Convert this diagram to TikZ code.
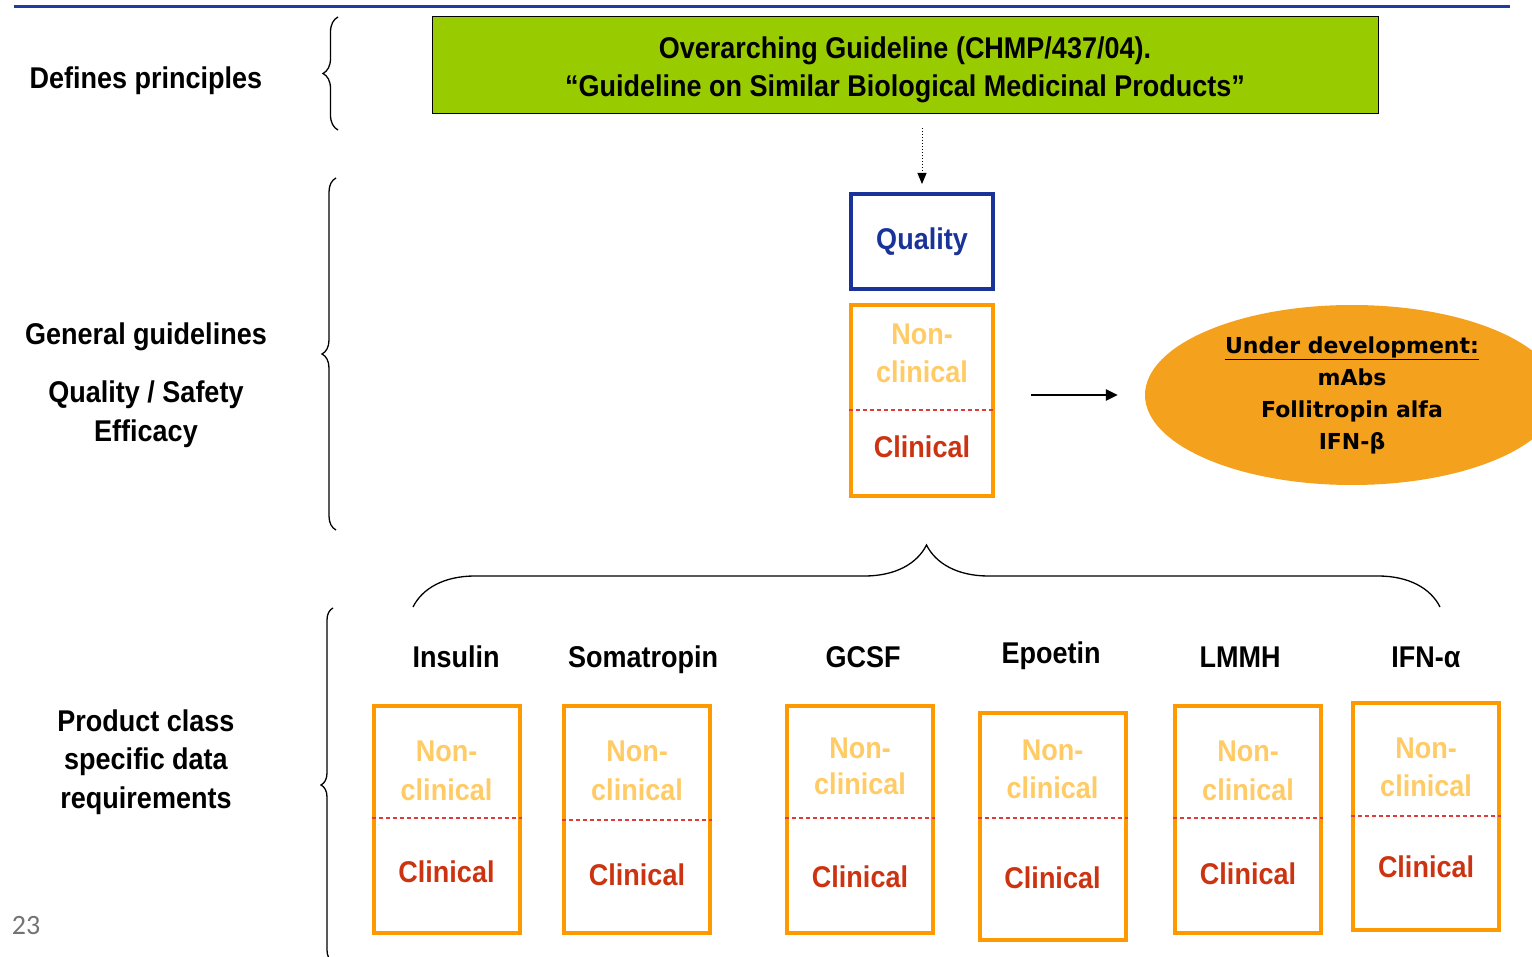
\documentclass[tikz,border=0pt]{standalone}
\usepackage{fontspec}
\setmainfont{Liberation Sans}[FakeStretch=0.9]
\newfontfamily\ellfont{DejaVu Sans}
\newfontfamily\pgnumfont{Carlito}
\usetikzlibrary{shapes.geometric,decorations.pathreplacing,arrows.meta}
\definecolor{gboxc}{HTML}{99CC00}
\definecolor{topblue}{HTML}{1F3D9E}
\definecolor{qblue}{HTML}{1A3399}
\definecolor{orangec}{HTML}{FF9900}
\definecolor{ellc}{HTML}{F4A11E}
\definecolor{ncc}{HTML}{FFCB66}
\definecolor{clinc}{HTML}{CC3311}
\definecolor{dashc}{HTML}{E03A3A}
\tikzset{
  lbl/.style={anchor=base, inner sep=0pt, font=\bfseries\fontsize{30}{36}\selectfont},
  obox/.style={draw=orangec, line width=4pt, minimum width=146pt, minimum height=227pt, inner sep=0pt},
  qbox/.style={draw=qblue, line width=4pt, minimum width=142pt, minimum height=95pt, inner sep=0pt},
  dline/.style={draw=dashc, line width=1.2pt, dash pattern=on 4pt off 3pt},
  nctext/.style={lbl, text=ncc},
  cltext/.style={lbl, text=clinc},
  bracedeco/.style={draw=black, line width=1.3pt, decorate},
}
\begin{document}
\begin{tikzpicture}[x=1pt,y=-1pt]
\useasboundingbox (0,0) rectangle (1532,957);
% top rule
\draw[topblue, line width=3pt] (14,7) -- (1510,7);
% left labels
\node[lbl] (l1) at (146,89) {Defines principles};
\node[lbl] (l2) at (146,345) {General guidelines};
\node[lbl] (l3) at (146,403) {Quality / Safety};
\node[lbl] (l4) at (146,442) {Efficacy};
\node[lbl] (l5) at (146,731) {Product class};
\node[lbl] (l6) at (146,769) {specific data};
\node[lbl] (l7) at (146,808) {requirements};
\node[anchor=base, inner sep=0pt, text=black!55, font=\pgnumfont\fontsize{28}{32}\selectfont] (pg) at (26,934) {23};
% vertical braces
\draw[bracedeco, decoration={brace, amplitude=15pt}] (338,130) -- (338,17);
\draw[bracedeco, decoration={brace, amplitude=14pt}] (336,530) -- (336,178);
\draw[bracedeco, decoration={brace, amplitude=12pt}] (333,962) -- (333,608);
% green overarching box
\node[draw=black, line width=1pt, fill=gboxc, minimum width=946pt, minimum height=97pt, inner sep=0pt] (g) at (905,65.5) {};
\node[lbl] (g1) at (905,59) {Overarching Guideline (CHMP/437/04).};
\node[lbl] (g2) at (905,97) {“Guideline on Similar Biological Medicinal Products”};
% quality box
\node[qbox] (q) at (922,241.5) {};
\node[lbl, text=qblue] (qt) at (922,250) {Quality};
% orange general box
\node[obox, minimum width=142pt, minimum height=191pt] (oc) at (922,400.5) {};
\draw[dline] (oc.west |- 0,410) -- (oc.east |- 0,410);
\node[nctext] (ocn1) at (922,345) {Non-};
\node[nctext] (ocn2) at (922,383) {clinical};
\node[cltext] (ocn3) at (922,457) {Clinical};
% dotted arrow
\draw[line width=1pt, dotted, -{Triangle[length=11pt,width=9pt]}, shorten <=14pt, shorten >=8pt] (g.south -| q.north) -- (q.north);
% ellipse
\node[ellipse, fill=ellc, minimum width=414pt, minimum height=180pt, inner sep=0pt, align=center, font=\ellfont\bfseries\fontsize{22}{32}\selectfont] (e) at (1352,395) {\underline{Under development:}\\mAbs\\Follitropin alfa\\IFN-β};
\draw[line width=2.5pt, -{Triangle[length=12pt,width=11pt]}, shorten <=36pt, shorten >=27pt] (oc.east |- e.west) -- (e.west);
% horizontal brace
\draw[bracedeco, decoration={brace, amplitude=62pt}] (413,607) -- (1440,607);
% column labels
\node[lbl] (c1) at (456,667) {Insulin};
\node[lbl] (c2) at (643,667) {Somatropin};
\node[lbl] (c3) at (863,667) {GCSF};
\node[lbl] (c4) at (1051,663) {Epoetin};
\node[lbl] (c5) at (1240,667) {LMMH};
\node[lbl] (c6) at (1426,667) {IFN-α};
% product boxes
\foreach \i/\cx/\cy/\dy/\ya/\yb/\yc in {1/446.5/819.5/818/751/790/872, 2/637/819.5/820/751/790/875, 3/860/819/818/748/784/877, 4/1052.5/826/818/750/788/878, 5/1248/819.5/818/751/790/874, 6/1426/816/816/748/786/867}{
  \node[obox] (b\i) at (\cx,\cy) {};
  \draw[dline] (b\i.west |- 0,\dy) -- (b\i.east |- 0,\dy);
  \node[nctext] (na\i) at (\cx,\ya+10) {Non-};
  \node[nctext] (nb\i) at (\cx,\yb+10) {clinical};
  \node[cltext] (nc\i) at (\cx,\yc+10) {Clinical};
}
\end{tikzpicture}
\end{document}
